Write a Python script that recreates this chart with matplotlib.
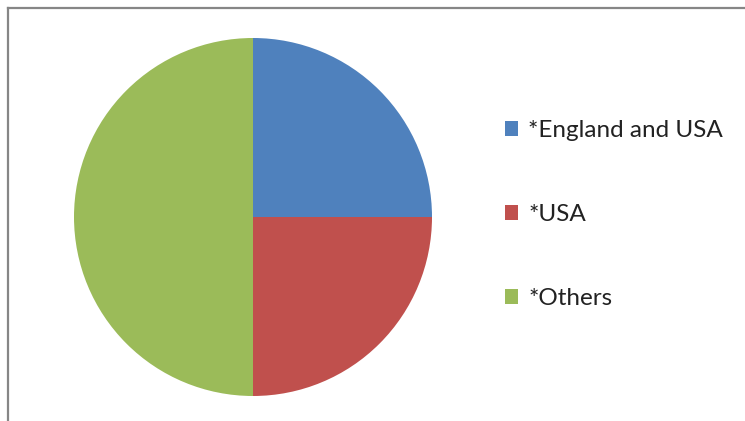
import matplotlib.pyplot as plt
from matplotlib.lines import Line2D

labels = ["*England and USA", "*USA", "*Others"]
shares = [25, 25, 50]
colors = ["#4F81BD", "#C0504D", "#9BBB59"]

plt.rcParams['font.family'] = ['Lato', 'DejaVu Sans']

W, H = 745, 421
fig = plt.figure(figsize=(W / 100, H / 100), dpi=100)

# pie sits in a square axes centred at (253, 217) px, radius 179 px
cx, cy, r = 253, 217, 179
ax = fig.add_axes([(cx - r) / W, (H - cy - r) / H, 2 * r / W, 2 * r / H])
wedges, _ = ax.pie(shares, colors=colors, startangle=90, counterclock=False,
                   radius=1.0, wedgeprops=dict(linewidth=0))
ax.set_xlim(-1, 1)
ax.set_ylim(-1, 1)
ax.set_aspect('equal')

# chart frame: only top and left edges visible
fig.add_artist(Line2D([8 / W, 1], [1 - 8 / H, 1 - 8 / H], color="#868686", lw=1.6,
                      transform=fig.transFigure))
fig.add_artist(Line2D([8 / W, 8 / W], [0, 1 - 8 / H], color="#868686", lw=1.6,
                      transform=fig.transFigure))

leg = fig.legend(wedges, labels, loc="upper left",
                 bbox_to_anchor=(505 / W, 1 - 120 / H),
                 frameon=False, fontsize=17.5, handlelength=0.55, handleheight=0.55,
                 handletextpad=0.4, labelspacing=2.6, borderpad=0, borderaxespad=0)
for t in leg.get_texts():
    t.set_color("#222222")

fig.savefig("out.png", dpi=100)
